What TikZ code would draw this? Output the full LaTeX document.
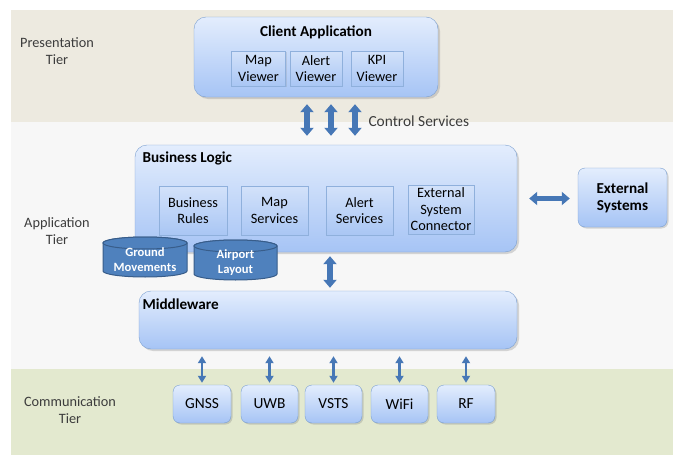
\documentclass[tikz,border=0pt]{standalone}
\usepackage{fontspec}
\setmainfont{Carlito}
\usetikzlibrary{arrows.meta,shadows,positioning}

\definecolor{presbg}{HTML}{EDEAE0}
\definecolor{appbg}{HTML}{F7F7F7}
\definecolor{commbg}{HTML}{E3E9CF}
\definecolor{boxtop}{HTML}{E3EDFD}
\definecolor{boxbot}{HTML}{A6C4F5}
\definecolor{boxline}{HTML}{7A9FD0}
\definecolor{innertop}{HTML}{D3E2FA}
\definecolor{innerbot}{HTML}{A9C6F4}
\definecolor{innerline}{HTML}{8FB0DC}
\definecolor{arrowblue}{HTML}{4677B6}
\definecolor{dbfill}{HTML}{4F81BD}
\definecolor{dbline}{HTML}{385D8A}
\definecolor{tiertext}{HTML}{3C3C3C}

\tikzset{
  tierlabel/.style={align=center, text=tiertext},
  bigbox/.style={draw=boxline, rounded corners=12pt, top color=boxtop, bottom color=boxbot,
    drop shadow={shadow xshift=2pt, shadow yshift=-2pt, opacity=0.3}},
  smallbox/.style={draw=boxline, rounded corners=7pt, top color=boxtop, bottom color=boxbot,
    drop shadow={shadow xshift=1.5pt, shadow yshift=-1.5pt, opacity=0.3}, align=center},
  commbox/.style={smallbox, minimum height=38, font=\fontsize{15.4}{17}\selectfont},
  innerbox/.style={draw=innerline, top color=innertop, bottom color=innerbot, align=center,
    inner sep=0.5pt, drop shadow={shadow xshift=1pt, shadow yshift=-1pt, opacity=0.2}},
  titletext/.style={font=\fontsize{15.2}{17}\selectfont\bfseries},
  dbstore/.style={draw=dbline, fill=dbfill, line width=1pt},
  dbtext/.style={text=white, align=center, font=\fontsize{12.6}{15}\selectfont\bfseries},
  blockarrow/.style={draw=arrowblue, line width=5.5pt,
    {Triangle[width=13pt,length=8pt]}-{Triangle[width=13pt,length=8pt]}},
  thinarrow/.style={draw=arrowblue, line width=2.2pt,
    {Triangle[width=8pt,length=7pt]}-{Triangle[width=8pt,length=7pt]}}
}

\begin{document}
\begin{tikzpicture}[x=1pt, y=-1pt, font=\fontsize{14.3}{16.5}\selectfont]
  \useasboundingbox (0,0) rectangle (673,455);
  % tier bands
  \fill[presbg] (11,10) rectangle (673,122);
  \fill[appbg] (11,122) rectangle (673,369);
  \fill[commbg] (11,369) rectangle (673,455);

  \node[tierlabel] (prestier) at (57,51) {Presentation\\Tier};
  \node[tierlabel] (apptier) at (57,231) {Application\\Tier};
  \node[tierlabel] (commtier) at (70,410) {Communication\\Tier};

  % presentation
  \node[bigbox, minimum width=244, minimum height=80] (client) at (316,57) {};
  \node[titletext] (clienttitle) at (316,32) {Client Application};
  \node[innerbox, minimum width=54, minimum height=35] (mapviewer) at (258.5,68.5) {Map\\Viewer};
  \node[innerbox, minimum width=52, minimum height=35] (alertviewer) at (316,68.5) {Alert\\Viewer};
  \node[innerbox, minimum width=52, minimum height=35] (kpiviewer) at (377,68.5) {KPI\\Viewer};

  % application
  \node[bigbox, minimum width=382, minimum height=107] (logic) at (326,198.5) {};
  \node[titletext, anchor=west] (logictitle) at (139,158) {Business Logic};
  \node[innerbox, minimum width=68, minimum height=49] (rules) at (193,210.5) {Business\\Rules};
  \node[innerbox, minimum width=67, minimum height=49] (mapsrv) at (274.5,210.5) {Map\\Services};
  \node[innerbox, minimum width=67, minimum height=49] (alertsrv) at (359.5,210.5) {Alert\\Services};
  \node[innerbox, minimum width=66, minimum height=49] (extconn) at (441,209.5) {External\\System\\Connector};

  \draw[dbstore] (103,243) -- (103,271) arc[start angle=180, end angle=0, x radius=42, y radius=6]
    -- (187,243) arc[start angle=0, end angle=-180, x radius=42, y radius=6] -- cycle;
  \draw[dbstore] (145,243) ellipse[x radius=42, y radius=6];
  \node[dbtext] (ground) at (145,260) {Ground\\Movements};
  \draw[dbstore] (194,246) -- (194,274) arc[start angle=180, end angle=0, x radius=41.5, y radius=6]
    -- (277,246) arc[start angle=0, end angle=-180, x radius=41.5, y radius=6] -- cycle;
  \draw[dbstore] (235.5,246) ellipse[x radius=41.5, y radius=6];
  \node[dbtext] (airport) at (235.5,263) {Airport\\Layout};

  \node[bigbox, minimum width=378, minimum height=58] (middleware) at (328,320) {};
  \node[titletext, anchor=west] (middletitle) at (139,304) {Middleware};

  \node[smallbox, minimum width=89, minimum height=59, font=\fontsize{15.2}{17}\selectfont\bfseries] (extsys) at (622.5,197.5) {External\\Systems};

  % communication
  \node[commbox, minimum width=58] (gnss) at (202,404) {GNSS};
  \node[commbox, minimum width=57] (uwb) at (269.5,404) {UWB};
  \node[commbox, minimum width=57] (vsts) at (333.5,404) {VSTS};
  \node[commbox, minimum width=57] (wifi) at (399.5,404) {WiFi};
  \node[commbox, minimum width=58] (rf) at (466,404) {RF};

  % connectors
  \foreach \dx in {-9,15,39}
    \draw[blockarrow, shorten <=7pt, shorten >=9pt] ([xshift=\dx pt]client.south) -- ([xshift=\dx pt]client.south |- logic.north);
  \node[text=tiertext, anchor=west, font=\fontsize{15.4}{17}\selectfont] (control) at (365,121) {Control Services};
  \draw[blockarrow, shorten <=4pt, shorten >=3pt] ([xshift=4pt]logic.south) -- ([xshift=4pt]logic.south |- middleware.north);
  \draw[blockarrow, shorten <=12pt, shorten >=8pt] (logic.east) -- (logic.east -| extsys.west);
  \foreach \c in {gnss,uwb,vsts,wifi,rf}
    \draw[thinarrow, shorten <=7pt, shorten >=2pt] (\c.north |- middleware.south) -- (\c.north);
\end{tikzpicture}
\end{document}
